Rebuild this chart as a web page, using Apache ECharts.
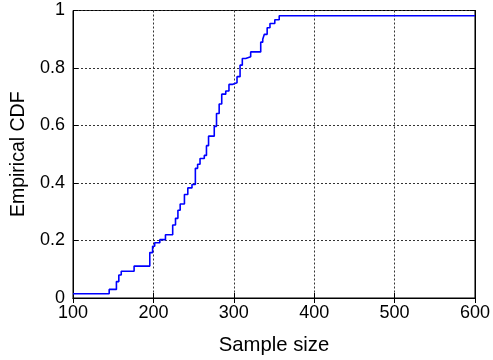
<!DOCTYPE html>
<html><head><meta charset="utf-8">
<script src="https://cdn.jsdelivr.net/npm/echarts@6/dist/echarts.min.js"></script>
<style>html,body{margin:0;padding:0;background:#fff}#c{width:493px;height:360px}</style>
</head><body><div id="c"></div>
<script>
var xTicks = [100, 200, 300, 400, 500, 600];
var yTicks = [0, 0.2, 0.4, 0.6, 0.8, 1];
var stepX = [100, 145, 154, 157, 160, 176, 195.5, 199, 201.6, 208, 215, 224, 227.5, 230.5, 233.3, 238.6, 242.8, 248, 252.2, 255, 258, 263.3, 266, 268.6, 275.7, 278.5, 281.8, 285, 290, 294, 298, 304, 307.8, 310.6, 314.8, 321, 333.5, 336, 338, 341.5, 345, 351, 356.5, 600];
var stepY = [0.015, 0.03, 0.057, 0.08, 0.093, 0.111, 0.158, 0.18, 0.192, 0.203, 0.22, 0.254, 0.277, 0.305, 0.327, 0.36, 0.383, 0.395, 0.451, 0.465, 0.485, 0.496, 0.53, 0.563, 0.597, 0.642, 0.675, 0.709, 0.72, 0.743, 0.749, 0.77, 0.81, 0.833, 0.839, 0.856, 0.89, 0.90, 0.917, 0.94, 0.955, 0.968, 0.982, 0.982];
var xTitle = 'Sample size';
var yTitle = 'Empirical CDF';

var pts = stepX.map(function (x, i) { return [x, stepY[i]]; });
var font = 'Liberation Sans, Arial, Helvetica, sans-serif';
var chart = echarts.init(document.getElementById('c'), null, {renderer: 'canvas'});
var tickStyle = {show: true, inside: true, length: 5, lineStyle: {color: '#000', width: 1}};
var grid = {left: 73, right: 15, top: 10.5, bottom: 53, show: true, borderColor: '#000', borderWidth: 1, backgroundColor: 'transparent'};
chart.setOption({
  animation: false,
  grid: grid,
  xAxis: [{
    type: 'value', min: xTicks[0], max: xTicks[xTicks.length - 1], interval: 100,
    name: xTitle, nameLocation: 'middle', nameGap: 37,
    nameTextStyle: {fontFamily: font, fontSize: 20.3, color: '#000'},
    axisLine: {show: true, lineStyle: {color: '#000', width: 1}},
    axisTick: tickStyle,
    axisLabel: {fontFamily: font, fontSize: 18, color: '#000', margin: 6},
    splitLine: {show: true, lineStyle: {color: '#333', type: [2, 2], width: 1}}
  }, {
    type: 'value', position: 'top', min: 100, max: 600, interval: 100,
    axisLine: {show: true, lineStyle: {color: '#000'}}, axisTick: tickStyle,
    axisLabel: {show: false}, splitLine: {show: false}
  }],
  yAxis: [{
    type: 'value', min: 0, max: 1, interval: 0.2,
    name: yTitle, nameLocation: 'middle', nameGap: 43,
    nameTextStyle: {fontFamily: font, fontSize: 19.5, color: '#000'},
    axisLine: {show: true, lineStyle: {color: '#000', width: 1}},
    axisTick: tickStyle,
    axisLabel: {fontFamily: font, fontSize: 18, color: '#000', margin: 8,
      formatter: function (v) { return String(Math.round(v * 10) / 10); }},
    splitLine: {show: true, lineStyle: {color: '#333', type: [2, 2], width: 1}}
  }, {
    type: 'value', position: 'right', min: 0, max: 1, interval: 0.2,
    axisLine: {show: true, lineStyle: {color: '#000'}}, axisTick: tickStyle,
    axisLabel: {show: false}, splitLine: {show: false}
  }],
  series: [{
    type: 'line', step: 'end', data: pts, showSymbol: false, symbol: 'none',
    lineStyle: {color: '#0000ff', width: 1.6}, silent: true
  }]
});
</script></body></html>
